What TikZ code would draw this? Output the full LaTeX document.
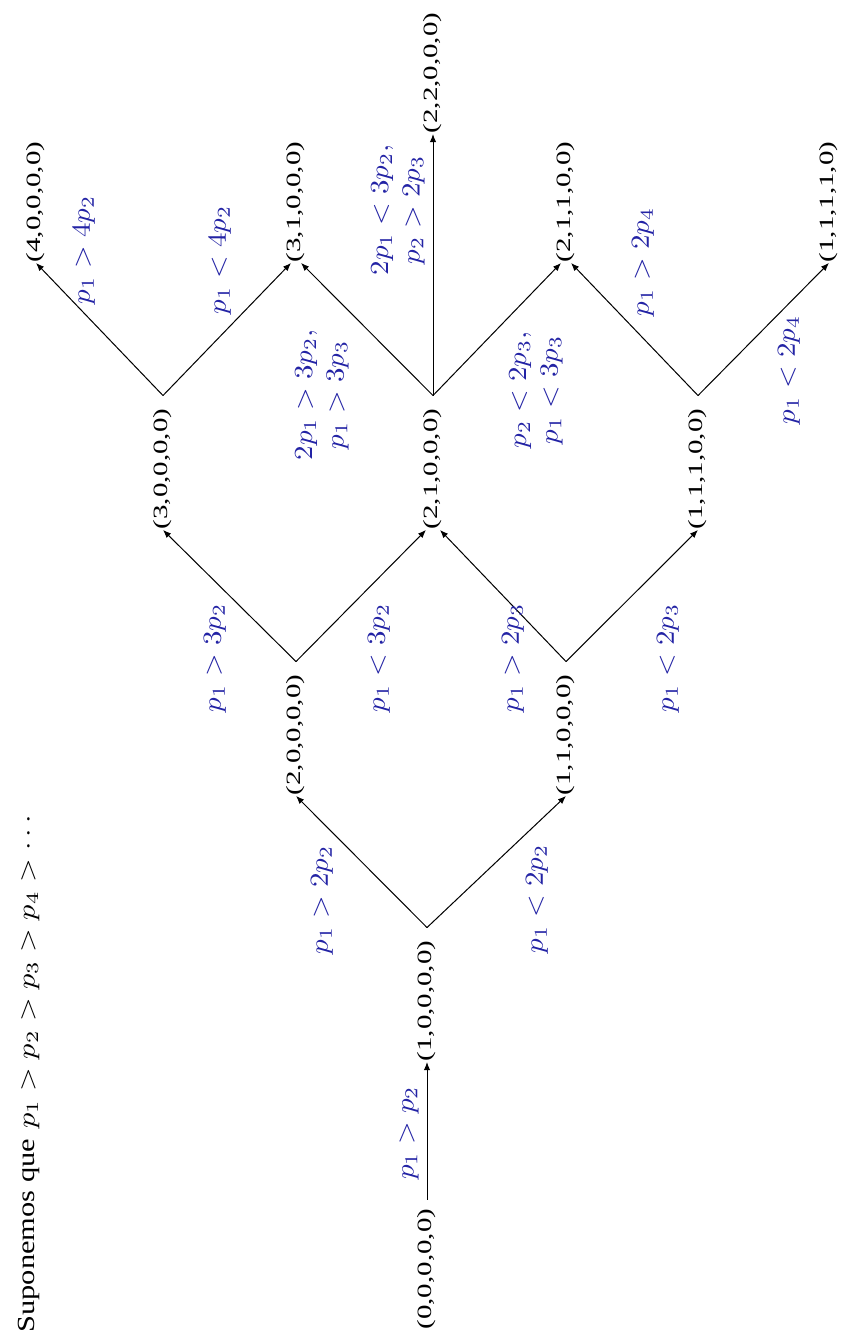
\documentclass[tikz,border=0pt]{standalone}
\usepackage{fontspec}
\newfontfamily\timesfont{Liberation Serif}
\usetikzlibrary{calc,arrows.meta}
\definecolor{lblue}{RGB}{35,35,165}
\begin{document}
\begin{tikzpicture}[x=0.345pt,y=-0.345pt,
  tuple/.style={inner sep=0pt, xscale=0.7, rotate=90, font=\timesfont},
  lbl/.style={text=lblue, inner sep=0pt, xscale=0.9, rotate=90, align=center},
  hypo/.style={inner sep=0pt, xscale=0.85, yscale=1.05, rotate=90},
  conn/.style={draw=black, line width=0.35pt, -{Latex[length=2.8pt,width=2.2pt]}}]
\fill[white] (0,0) rectangle (843,1332);
\useasboundingbox (0,0) rectangle (843,1332);

% hypothesis
\node[hypo, anchor=west] (hyp) at (29,1333) {{\timesfont\fontsize{10}{12}\selectfont Suponemos que} $p_1>p_2>p_3>p_4>\cdots$};

% tuples
\node[tuple] (n00000) at (427,1269) {(0,0,0,0,0)};
\node[tuple] (n10000) at (427,1001) {(1,0,0,0,0)};
\node[tuple] (n20000) at (296,735) {(2,0,0,0,0)};
\node[tuple] (n11000) at (566,735) {(1,1,0,0,0)};
\node[tuple] (n30000) at (163,469) {(3,0,0,0,0)};
\node[tuple] (n21000) at (433,469) {(2,1,0,0,0)};
\node[tuple] (n11100) at (698,469) {(1,1,1,0,0)};
\node[tuple] (n40000) at (36,202) {(4,0,0,0,0)};
\node[tuple] (n31000) at (296,202) {(3,1,0,0,0)};
\node[tuple] (n21100) at (566,202) {(2,1,1,0,0)};
\node[tuple] (n11110) at (829,202) {(1,1,1,1,0)};
\node[tuple] (n22000) at (433,73) {(2,2,0,0,0)};

% branch points
\coordinate (b1) at ($(n10000.east)+(0,-12.5)$);
\coordinate (b20) at ($(n20000.east)+(0,-12.5)$);
\coordinate (b11) at ($(n11000.east)+(0,-12.5)$);
\coordinate (b30) at ($(n30000.east)+(0,-12.5)$);
\coordinate (b21) at ($(n21000.east)+(0,-12.5)$);
\coordinate (b111) at ($(n11100.east)+(0,-12.5)$);

% connectors
\draw[conn, shorten <=2.8pt] (n00000.east) -- (n10000.west);
\draw[conn] (b1) -- (n20000.west);
\draw[conn] (b1) -- (n11000.west);
\draw[conn] (b20) -- (n30000.west);
\draw[conn] (b20) -- ($(n21000.west)+(-7,0)$);
\draw[conn] (b11) -- ($(n21000.west)+(7,0)$);
\draw[conn] (b11) -- (n11100.west);
\draw[conn] (b30) -- (n40000.west);
\draw[conn] (b30) -- ($(n31000.west)+(-5,0)$);
\draw[conn] (b21) -- ($(n31000.west)+(5,0)$);
\draw[conn] (b21) -- (n22000.west);
\draw[conn] (b21) -- ($(n21100.west)+(-5,0)$);
\draw[conn] (b111) -- ($(n21100.west)+(5,0)$);
\draw[conn] (b111) -- (n11110.west);

% labels
\node[lbl] (l01) at (409,1133) {$p_1>p_2$};
\node[lbl] (l1a) at (322,900) {$p_1>2p_2$};
\node[lbl] (l1b) at (537,899) {$p_1<2p_2$};
\node[lbl] (l2a) at (215,658) {$p_1>3p_2$};
\node[lbl] (l2b) at (379,658) {$p_1<3p_2$};
\node[lbl] (l2c) at (513,658) {$p_1>2p_3$};
\node[lbl] (l2d) at (668,658) {$p_1<2p_3$};
\node[lbl] (l3a) at (84,250) {$p_1>4p_2$};
\node[lbl] (l3b) at (220,260) {$p_1<4p_2$};
\node[lbl] (l3c) at (322,395) {$2p_1>3p_2,$\\$p_1>3p_3$};
\node[lbl] (l3d) at (398,210) {$2p_1<3p_2,$\\$p_2>2p_3$};
\node[lbl] (l3e) at (536,390) {$p_2<2p_3,$\\$p_1<3p_3$};
\node[lbl] (l3f) at (643,262) {$p_1>2p_4$};
\node[lbl] (l3g) at (789,370) {$p_1<2p_4$};
\end{tikzpicture}
\end{document}
